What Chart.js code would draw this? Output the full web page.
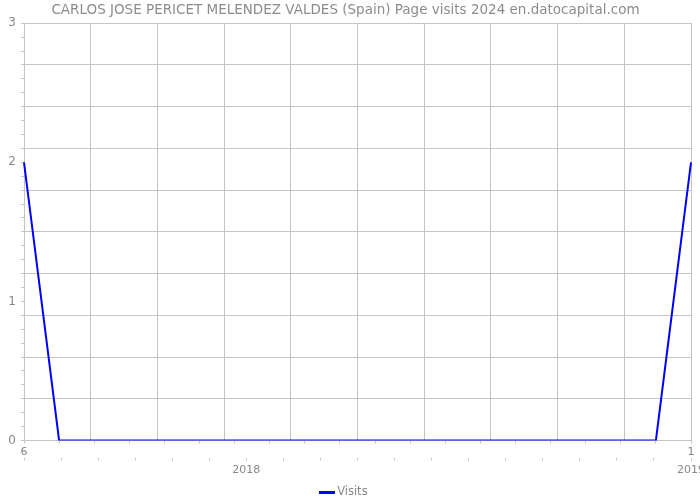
<!DOCTYPE html>
<html>
<head>
<meta charset="utf-8">
<script src="https://cdn.jsdelivr.net/npm/chart.js@4/dist/chart.umd.min.js"></script>
<style>
html,body{margin:0;padding:0;background:#fff;overflow:hidden;}
#wrap{width:700px;height:500px;}
</style>
</head>
<body>
<div id="wrap"><canvas id="c" width="700" height="500"></canvas></div>
<script>
// ---- data ----
const titleText = 'CARLOS JOSE PERICET MELENDEZ VALDES (Spain) Page visits 2024 en.datocapital.com';
const seriesName = 'Visits';
const pointLabels = ['6','','','','','','','','','','','','','','','','','','','1'];
const visits = [2,0,0,0,0,0,0,0,0,0,0,0,0,0,0,0,0,0,0,2];
const yearLabels = ['','','','','','','2018','','','','','','','','','','','','2019'];
const yTickLabels = [0,1,2,3];

// ---- styles ----
const gridColor = '#c4c4c4';
const textColor = '#888';
Chart.defaults.font.family = "'DejaVu Sans', sans-serif";
Chart.defaults.font.size = 11;
Chart.defaults.color = textColor;

const legendSwatch = document.createElement('canvas');
legendSwatch.width = 16; legendSwatch.height = 3;
(function(){const g = legendSwatch.getContext('2d'); g.fillStyle = '#0000ff'; g.fillRect(0,0,16,3);})();

function zeroPad(s){ s.paddingLeft = 0; s.paddingRight = 0; s.paddingTop = 0; s.paddingBottom = 0; }

new Chart(document.getElementById('c'), {
  type: 'line',
  data: {
    labels: pointLabels,
    datasets: [{
      label: seriesName,
      data: visits,
      borderColor: '#0000ff',
      backgroundColor: '#0000ff',
      borderWidth: 2,
      pointRadius: 0,
      pointHoverRadius: 0,
      tension: 0,
      fill: false,
      xAxisID: 'x',
      yAxisID: 'y'
    }]
  },
  options: {
    responsive: false,
    animation: false,
    events: [],
    layout: { padding: { left: 0, right: 9, top: 0, bottom: -8 } },
    plugins: {
      title: {
        display: true,
        text: titleText,
        color: '#8c8c8c',
        font: { size: 13.5, weight: 'normal' },
        padding: { top: 2, bottom: 5 }
      },
      legend: {
        display: true,
        position: 'bottom',
        labels: {
          usePointStyle: true,
          pointStyle: legendSwatch,
          pointStyleWidth: 8,
          boxHeight: 11,
          padding: 4,
          color: textColor,
          font: { size: 11.5 }
        }
      },
      tooltip: { enabled: false }
    },
    scales: {
      xGrid: {
        type: 'linear',
        position: 'bottom',
        weight: 0,
        min: 0,
        max: pointLabels.length - 1,
        ticks: { display: false, stepSize: (pointLabels.length - 1) / 10, autoSkip: false },
        grid: { color: gridColor, drawTicks: false, lineWidth: 1 },
        border: { display: true, color: gridColor },
        afterFit: function(s){ s.height = 0; zeroPad(s); }
      },
      x: {
        type: 'category',
        position: 'bottom',
        weight: 1,
        offset: false,
        ticks: { autoSkip: false, maxRotation: 0, padding: 2, color: textColor },
        grid: { drawOnChartArea: false, tickLength: 3, color: gridColor },
        border: { display: false },
        afterFit: function(s){ s.height = 17; zeroPad(s); }
      },
      xYears: {
        type: 'category',
        labels: yearLabels,
        position: 'bottom',
        weight: 2,
        offset: false,
        ticks: { autoSkip: false, maxRotation: 0, padding: 3, color: textColor },
        grid: { drawOnChartArea: false, tickLength: 3, color: gridColor },
        border: { display: false },
        afterFit: function(s){ s.height = 25; zeroPad(s); }
      },
      y: {
        type: 'linear',
        position: 'left',
        min: 0,
        max: 3,
        ticks: {
          stepSize: 0.1,
          autoSkip: false,
          padding: 5,
          color: textColor,
          font: { size: 12 },
          callback: function(v){
            const r = Math.round(v);
            return (Math.abs(v - r) < 1e-6 && yTickLabels.includes(r)) ? String(r) : '';
          }
        },
        grid: {
          tickLength: 3,
          color: function(ctx){
            const k = Math.round(ctx.tick.value * 10);
            return (k % 3 === 0) ? gridColor : 'rgba(0,0,0,0)';
          },
          tickColor: gridColor
        },
        border: { display: true, color: gridColor },
        afterFit: function(s){ s.width = 24; s.paddingTop = 0; s.paddingBottom = 0; }
      }
    }
  }
});
</script>
</body>
</html>
